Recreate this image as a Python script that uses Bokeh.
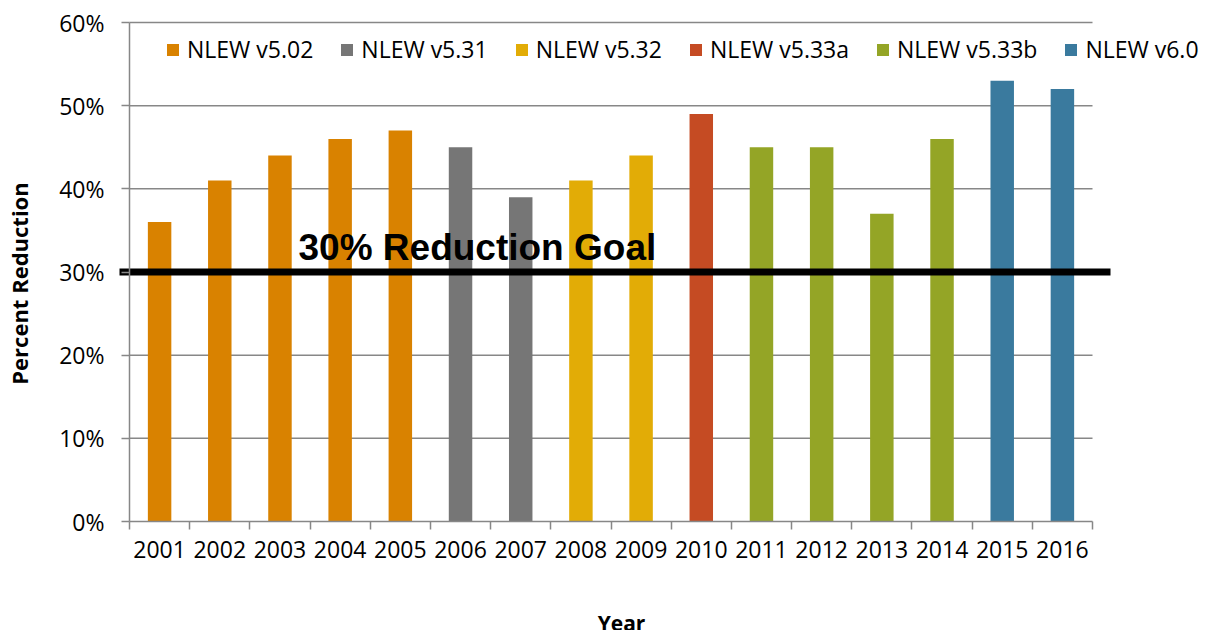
import math
from bokeh.plotting import figure
from bokeh.models import (ColumnDataSource, FixedTicker, PrintfTickFormatter,
                          Label, Legend, LegendItem)
from bokeh.embed import file_html
from bokeh.resources import INLINE

# --- data -------------------------------------------------------------
years = ["2001", "2002", "2003", "2004", "2005", "2006", "2007", "2008",
         "2009", "2010", "2011", "2012", "2013", "2014", "2015", "2016"]
reduction = [36, 41, 44, 46, 47, 45, 39, 41, 44, 49, 45, 45, 37, 46, 53, 52]
version = ["NLEW v5.02", "NLEW v5.02", "NLEW v5.02", "NLEW v5.02", "NLEW v5.02",
           "NLEW v5.31", "NLEW v5.31", "NLEW v5.32", "NLEW v5.32", "NLEW v5.33a",
           "NLEW v5.33b", "NLEW v5.33b", "NLEW v5.33b", "NLEW v5.33b",
           "NLEW v6.0", "NLEW v6.0"]
versions = ["NLEW v5.02", "NLEW v5.31", "NLEW v5.32", "NLEW v5.33a",
            "NLEW v5.33b", "NLEW v6.0"]
version_colors = ["#D98200", "#767676", "#E2AC06", "#C54B23", "#94A526", "#3A7A9E"]
y_ticks = [0, 10, 20, 30, 40, 50, 60]
goal = 30

FONT = "Open Sans"
GRID = "#878787"

# --- geometry: the frame fills the page, axes sit at fixed positions ---
W, H = 1221, 630
n = len(years)
x_pos = list(range(1, n + 1))
axis_left_px, axis_right_px = 129, 1092          # x = 0.5 .. n + 0.5
y_top_px, y_bot_px = 22, 521                     # y = 60 .. 0
px_per_cat = (axis_right_px - axis_left_px) / n
px_per_pct = (y_bot_px - y_top_px) / 60.0

def px_to_x(px):
    return 0.5 + (px - axis_left_px) / px_per_cat

def px_to_y(py):
    return (y_bot_px - py) / px_per_pct

p = figure(width=W, height=H, output_backend="svg", toolbar_location=None,
           x_range=(px_to_x(0), px_to_x(W)), y_range=(px_to_y(H), px_to_y(0)),
           min_border=0)
p.outline_line_color = None
p.grid.visible = False
p.background_fill_color = "white"
p.border_fill_color = "white"

# horizontal grid lines over the category span
p.segment(x0=[0.5] * len(y_ticks[1:]), x1=[n + 0.5] * len(y_ticks[1:]),
          y0=y_ticks[1:], y1=y_ticks[1:], line_color=GRID, line_width=1.5)

# bars, one renderer per model version
renderers = {}
for v, c in zip(versions, version_colors):
    idx = [i for i, vv in enumerate(version) if vv == v]
    src = ColumnDataSource(dict(x=[x_pos[i] for i in idx],
                                top=[reduction[i] for i in idx]))
    renderers[v] = p.vbar(x="x", top="top", bottom=0, width=0.39, source=src,
                          fill_color=c, line_color=None)

# 30% goal line, running a little past both ends of the axis, and its caption
p.segment(x0=[px_to_x(119)], x1=[px_to_x(1110)], y0=[goal], y1=[goal],
          line_color="black", line_width=7)
p.add_layout(Label(x=px_to_x(298), y=32.9, text="30% Reduction Goal",
                   text_font="Liberation Sans", text_font_style="bold",
                   text_font_size="37px", text_color="black",
                   text_baseline="middle"))

# x axis pinned at y = 0: labels at bar centres, ticks on category boundaries
xa = p.xaxis[0]
xa.fixed_location = 0
xa.bounds = (0.5, n + 0.5)
xa.ticker = FixedTicker(ticks=x_pos, minor_ticks=[i + 0.5 for i in range(n + 1)])
xa.major_label_overrides = {i: y for i, y in zip(x_pos, years)}
xa.axis_line_color = GRID
xa.axis_line_width = 1.5
xa.major_tick_line_color = None
xa.major_tick_out = 8
xa.major_tick_in = 0
xa.minor_tick_line_color = GRID
xa.minor_tick_line_width = 1.5
xa.minor_tick_in = 0
xa.minor_tick_out = 8
xa.major_label_text_font = FONT
xa.major_label_text_font_size = "23px"
xa.major_label_text_color = "black"
xa.major_label_standoff = 11

# y axis pinned at the left edge of the category span
ya = p.yaxis[0]
ya.fixed_location = 0.5
ya.bounds = (0, 60)
ya.ticker = FixedTicker(ticks=y_ticks, minor_ticks=[])
ya.formatter = PrintfTickFormatter(format="%d%%")
ya.axis_line_color = GRID
ya.axis_line_width = 1.5
ya.major_tick_line_color = GRID
ya.major_tick_line_width = 1.5
ya.minor_tick_line_color = None
ya.major_tick_out = 8
ya.major_tick_in = 0
ya.major_label_text_font = FONT
ya.major_label_text_font_size = "23px"
ya.major_label_text_color = "black"
ya.major_label_standoff = 17

# axis titles
p.add_layout(Label(x=px_to_x(621), y=px_to_y(622), text="Year",
                   text_font=FONT, text_font_style="bold", text_font_size="21px",
                   text_color="black", text_align="center",
                   text_baseline="alphabetic"))
p.add_layout(Label(x=px_to_x(18), y=px_to_y(283), text="Percent Reduction",
                   angle=math.pi / 2, text_font=FONT, text_font_style="bold",
                   text_font_size="22px", text_color="black",
                   text_align="center", text_baseline="middle"))

# legend across the top of the plot
legend = Legend(items=[LegendItem(label=v, renderers=[renderers[v]]) for v in versions],
                orientation="horizontal", location=(165, 565),
                glyph_width=15, glyph_height=15, label_standoff=7, spacing=26,
                padding=0, margin=0, border_line_color=None,
                background_fill_alpha=0,
                label_text_font=FONT, label_text_font_size="23px",
                label_text_color="black")
p.add_layout(legend, "center")

open("out.html", "w").write(file_html(p, INLINE))
